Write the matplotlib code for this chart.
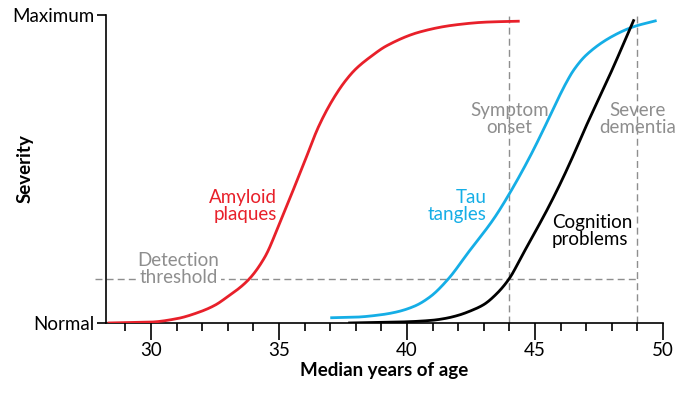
import numpy as np
import matplotlib
matplotlib.use("Agg")
import matplotlib.pyplot as plt
from matplotlib.ticker import MultipleLocator

plt.rcParams['font.family'] = ['Lato', 'DejaVu Sans']

# curves (age, severity 0..1)
amyloid_age = [28.3, 30.0, 31.0, 31.9, 32.5, 32.9, 33.8, 34.45, 34.97, 35.5, 36.02, 36.54, 37.06, 37.58, 38.0, 38.6, 39.2, 40.5, 41.8, 43.1, 44.4]
amyloid_sev = [0.0, 0.003, 0.014, 0.036, 0.058, 0.08, 0.14, 0.215, 0.313, 0.421, 0.529, 0.637, 0.72, 0.785, 0.825, 0.866, 0.9, 0.945, 0.967, 0.977, 0.98]

tau_age = [37.0, 38.0, 39.0, 39.6, 40.3, 40.9, 41.6, 42.4, 43.4, 44.0, 44.8, 45.6, 46.0, 46.25, 46.5, 47.0, 48.0, 48.85, 49.75]
tau_sev = [0.017, 0.019, 0.027, 0.036, 0.055, 0.085, 0.142, 0.23, 0.34, 0.42, 0.54, 0.675, 0.745, 0.785, 0.82, 0.87, 0.93, 0.962, 0.982]

cog_age = [37.7, 39.0, 40.0, 41.0, 41.5, 42.0, 42.5, 43.0, 43.5, 44.0, 44.5, 45.0, 45.5, 46.0, 46.5, 47.0, 47.5, 48.0, 48.5, 48.87]
cog_sev = [0.0, 0.002, 0.004, 0.009, 0.015, 0.025, 0.04, 0.06, 0.095, 0.145, 0.22, 0.295, 0.372, 0.455, 0.545, 0.64, 0.73, 0.82, 0.915, 0.986]

threshold = 0.142
onset_age = 44
severe_age = 49

RED = "#e8202a"
BLUE = "#15aee6"
GREY = "#8e8e8e"
FS = 13.5


def smooth(xs, ys, n=400):
    # monotone piecewise cubic through the read-off points
    xs = np.asarray(xs, float); ys = np.asarray(ys, float)
    h = np.diff(xs); d = np.diff(ys) / h
    m = np.zeros_like(ys)
    m[0], m[-1] = d[0], d[-1]
    for i in range(1, len(xs) - 1):
        if d[i-1] * d[i] > 0:
            w1 = 2*h[i] + h[i-1]; w2 = h[i] + 2*h[i-1]
            m[i] = (w1 + w2) / (w1/d[i-1] + w2/d[i])
    xx = np.linspace(xs[0], xs[-1], n)
    k = np.clip(np.searchsorted(xs, xx) - 1, 0, len(xs) - 2)
    t = (xx - xs[k]) / h[k]
    h00 = 2*t**3 - 3*t**2 + 1; h10 = t**3 - 2*t**2 + t
    h01 = -2*t**3 + 3*t**2; h11 = t**3 - t**2
    yy = h00*ys[k] + h10*h[k]*m[k] + h01*ys[k+1] + h11*h[k]*m[k+1]
    return xx, yy


fig = plt.figure(figsize=(6.81, 3.93), dpi=100)
ax = fig.add_axes([0.1557, 0.1781, 0.8179, 0.7837])

dash = (0, (5, 3))
ax.plot([27.8, severe_age], [threshold, threshold], color=GREY, lw=1, ls=dash, clip_on=False, zorder=1)
for a in (onset_age, severe_age):
    ax.plot([a, a], [0, 1], color=GREY, lw=1, ls=dash, zorder=1)

ax.plot(*smooth(amyloid_age, amyloid_sev), color=RED, lw=2, zorder=3, solid_capstyle='butt')
ax.plot(*smooth(tau_age, tau_sev), color=BLUE, lw=2, zorder=3, solid_capstyle='butt')
ax.plot(*smooth(cog_age, cog_sev), color="black", lw=2, zorder=3, solid_capstyle='butt')

ax.text(34.9, 0.38, "Amyloid\nplaques", color=RED, ha="right", va="center", fontsize=FS, linespacing=1.0)
ax.text(43.1, 0.38, "Tau\ntangles", color=BLUE, ha="right", va="center", fontsize=FS, linespacing=1.0)
ax.text(45.65, 0.30, "Cognition\nproblems", color="black", ha="left", va="center", fontsize=FS, linespacing=1.0)
ax.text(onset_age, 0.662, "Symptom\nonset", color=GREY, ha="center", va="center", fontsize=FS, linespacing=1.0)
ax.text(severe_age, 0.662, "Severe\ndementia", color=GREY, ha="center", va="center", fontsize=FS, linespacing=1.0)
ax.text(31.07, 0.175, "Detection\nthreshold", color=GREY, ha="center", va="center", fontsize=FS, linespacing=1.0,
        bbox=dict(facecolor="white", edgecolor="none", pad=1), zorder=2)

ax.set_xlim(28.24, 50)
ax.set_ylim(0, 1)
ax.xaxis.set_major_locator(MultipleLocator(5))
ax.xaxis.set_minor_locator(MultipleLocator(1))
ax.set_yticks([0, 1])
ax.set_yticklabels(["Normal", "Maximum"])
ax.tick_params(axis="x", which="major", length=12, width=1.2, labelsize=FS, pad=2)
ax.tick_params(axis="x", which="minor", length=6, width=1.2)
ax.tick_params(axis="y", length=6.5, width=1.2, labelsize=FS, pad=2)

for s in ("top", "right"):
    ax.spines[s].set_visible(False)
for s in ("left", "bottom"):
    ax.spines[s].set_linewidth(1.2)

ax.set_xlabel("Median years of age", fontsize=FS, fontweight="bold", labelpad=2)
ax.set_ylabel("Severity", fontsize=FS, fontweight="bold")
ax.yaxis.set_label_coords(-0.131, 0.5)

fig.savefig("out.png", dpi=100)
